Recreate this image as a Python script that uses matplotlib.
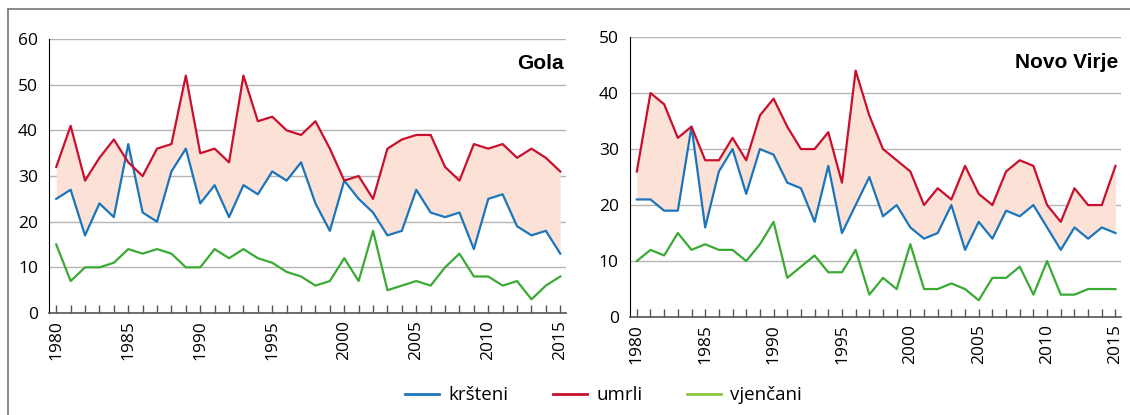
import numpy as np
import matplotlib.pyplot as plt
from matplotlib.lines import Line2D

plt.rcParams['font.family'] = ['Open Sans', 'DejaVu Sans']

years = list(range(1980, 2016))

# Gola
gola_krsteni = [25, 27, 17, 24, 21, 37, 22, 20, 31, 36, 24, 28, 21, 28, 26, 31, 29, 33,
                24, 18, 29, 25, 22, 17, 18, 27, 22, 21, 22, 14, 25, 26, 19, 17, 18, 13]
gola_umrli = [32, 41, 29, 34, 38, 33, 30, 36, 37, 52, 35, 36, 33, 52, 42, 43, 40, 39,
              42, 36, 29, 30, 25, 36, 38, 39, 39, 32, 29, 37, 36, 37, 34, 36, 34, 31]
gola_vjencani = [15, 7, 10, 10, 11, 14, 13, 14, 13, 10, 10, 14, 12, 14, 12, 11, 9, 8,
                 6, 7, 12, 7, 18, 5, 6, 7, 6, 10, 13, 8, 8, 6, 7, 3, 6, 8]

# Novo Virje
nv_krsteni = [21, 21, 19, 19, 34, 16, 26, 30, 22, 30, 29, 24, 23, 17, 27, 15, 20, 25,
              18, 20, 16, 14, 15, 20, 12, 17, 14, 19, 18, 20, 16, 12, 16, 14, 16, 15]
nv_umrli = [26, 40, 38, 32, 34, 28, 28, 32, 28, 36, 39, 34, 30, 30, 33, 24, 44, 36,
            30, 28, 26, 20, 23, 21, 27, 22, 20, 26, 28, 27, 20, 17, 23, 20, 20, 27]
nv_vjencani = [10, 12, 11, 15, 12, 13, 12, 12, 10, 13, 17, 7, 9, 11, 8, 8, 12, 4,
               7, 5, 13, 5, 5, 6, 5, 3, 7, 7, 9, 4, 10, 4, 4, 5, 5, 5]

c_blue = '#1a75bb'
c_red = '#c8102e'
c_green = '#3aaa35'
c_fill = '#fbe1d6'

fig = plt.figure(figsize=(11.3, 4.15), dpi=100)
ax1 = fig.add_axes([0.0434, 0.2458, 0.4575, 0.660])
ax2 = fig.add_axes([0.5575, 0.236, 0.4345, 0.6747])


def draw(ax, k, u, v, ymax, title):
    ax.fill_between(years, k, u, color=c_fill, lw=0, zorder=1)
    ax.plot(years, k, color=c_blue, lw=1.6, zorder=3)
    ax.plot(years, u, color=c_red, lw=1.6, zorder=3)
    ax.plot(years, v, color=c_green, lw=1.6, zorder=3)
    ax.set_xlim(1979.5, 2015.4)
    ax.set_ylim(0, ymax)
    ax.set_yticks(np.arange(0, ymax + 1, 10))
    ax.set_xticks(range(1980, 2016, 5))
    ax.set_xticks(years, minor=True)
    ax.tick_params(axis='x', which='both', direction='in', length=6, width=1,
                   color='#555555', labelsize=12.5, labelrotation=90, pad=5)
    ax.tick_params(axis='y', length=0, labelsize=12.5, pad=8)
    ax.grid(axis='y', color='#b5b5b5', lw=1, zorder=0)
    ax.set_axisbelow(True)
    for s in ['top', 'right']:
        ax.spines[s].set_visible(False)
    ax.spines['left'].set_color('black')
    ax.spines['bottom'].set_color('#555555')
    ax.spines['bottom'].set_linewidth(1.2)
    ax.text(0.995, 0.91, title, transform=ax.transAxes, ha='right', va='center',
            fontsize=15, fontweight='bold', family=['Liberation Sans', 'DejaVu Sans'])


draw(ax1, gola_krsteni, gola_umrli, gola_vjencani, 60, 'Gola')
draw(ax2, nv_krsteni, nv_umrli, nv_vjencani, 50, 'Novo Virje')

handles = [Line2D([], [], color=c_blue, lw=2),
           Line2D([], [], color=c_red, lw=2),
           Line2D([], [], color='#8dc63f', lw=2)]
fig.legend(handles, ['kršteni', 'umrli', 'vjenčani'], loc='center',
           bbox_to_anchor=(0.534, 0.048), ncol=3, frameon=False, fontsize=13.5,
           handlelength=1.8, columnspacing=2.4, handletextpad=0.5)

# frame lines (left and top)
fig.add_artist(Line2D([0.0075, 0.0075], [0, 0.978], color='#777777', lw=1.2,
                      transform=fig.transFigure))
fig.add_artist(Line2D([0.0075, 1.0], [0.978, 0.978], color='#777777', lw=1.2,
                      transform=fig.transFigure))

fig.savefig('out.png', dpi=100)
